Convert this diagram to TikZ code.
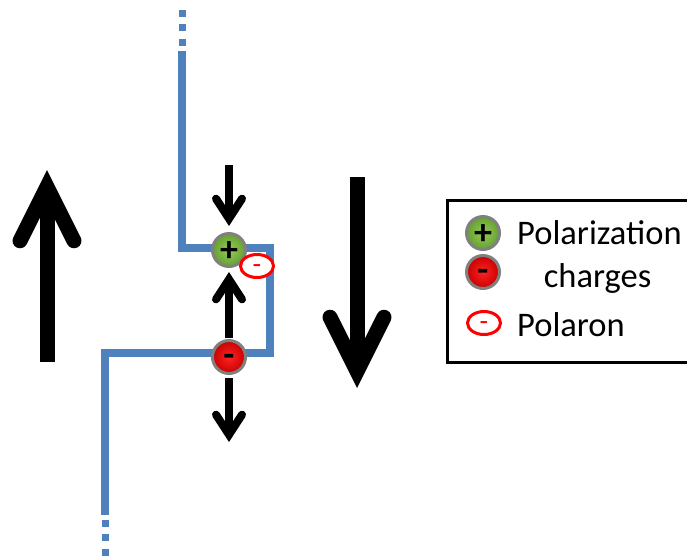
\documentclass[tikz,border=0pt]{standalone}
\usepackage{fontspec}
\setmainfont{Carlito}
\usetikzlibrary{arrows.meta,shapes.geometric}
\definecolor{wallblue}{RGB}{79,129,189}
\definecolor{plusin}{RGB}{150,204,88}
\definecolor{plusout}{RGB}{100,160,48}
\definecolor{minusin}{RGB}{255,36,36}
\definecolor{minusout}{RGB}{200,0,0}
\definecolor{rimgrey}{RGB}{128,128,128}
\tikzset{
  wall/.style     = {draw=wallblue, line width=8pt},
  wallend/.style  = {draw=wallblue, line width=7pt, dash pattern=on 7pt off 7.5pt},
  plus/.style     = {circle, draw=rimgrey, line width=3pt, inner color=plusin, outer color=plusout,
                     minimum size=33pt, inner sep=0pt, text height=23.5pt, text depth=0pt,
                     font=\bfseries\fontsize{36}{36}\selectfont},
  minus/.style    = {circle, draw=rimgrey, line width=3pt, inner color=minusin, outer color=minusout,
                     minimum size=33pt, inner sep=0pt, text height=19.5pt, text depth=0pt,
                     font=\bfseries\fontsize{36}{36}\selectfont},
  polaron/.style  = {ellipse, draw=red, line width=3pt, fill=white, minimum width=33pt,
                     minimum height=23pt, inner sep=0pt, text=red, text height=15.5pt, text depth=0pt,
                     font=\fontsize{28}{28}\selectfont},
  push/.style     = {line width=8pt, -{Straight Barb[length=20pt, width=26pt, line cap=round]}},
  field/.style    = {line width=15pt, -{Straight Barb[length=54pt, width=54pt, line cap=round]}},
  legtext/.style  = {inner sep=0pt, font=\fontsize{34.5}{40}\selectfont},
}
\begin{document}
\begin{tikzpicture}[x=1pt, y=-1pt]
  \useasboundingbox (0,0) rectangle (687,558);

  % domain wall
  \draw[wall] (182,51) -- (182,248) -- (270,248) -- (270,353) -- (105,353) -- (105,515);
  \draw[wallend] (182,9.5) -- (182,47);
  \draw[wallend] (105,519.5) -- (105,558);

  % polarization directions
  \coordinate (upTail)   at (47,362);
  \coordinate (upTip)    at (47,170);
  \coordinate (downTail) at (357,177);
  \coordinate (downTip)  at (357,388);
  \draw[field] (upTail) -- (upTip);
  \draw[field] (downTail) -- (downTip);

  % charges
  \node[plus]  (pos) at (229,250) {+};
  \node[minus] (neg) at (229,357) {-};
  \node[polaron] (pol) at (257,266) {-};

  \coordinate (topTail) at (229,165);
  \coordinate (botTip)  at (229,442);
  \draw[push, shorten >=6pt] (topTail) -- (pos);
  \draw[push, shorten >=4pt, shorten <=1pt] (neg) -- (pos);
  \draw[push, shorten <=3pt] (neg) -- (botTip);

  % legend
  \draw[line width=3pt] (447,200) rectangle (700,362);
  \node[plus]    (keyPos) at (483,233) {+};
  \node[minus]   (keyNeg) at (483,272) {-};
  \node[polaron] (keyPol) at (484,323) {-};
  \node[legtext, anchor=base west] (polText)     at (517,244)   {Polarization};
  \node[legtext, anchor=base]      (chargeText)  at (597.5,287) {charges};
  \node[legtext, anchor=base west] (polaronText) at (517,336)   {Polaron};
\end{tikzpicture}
\end{document}
